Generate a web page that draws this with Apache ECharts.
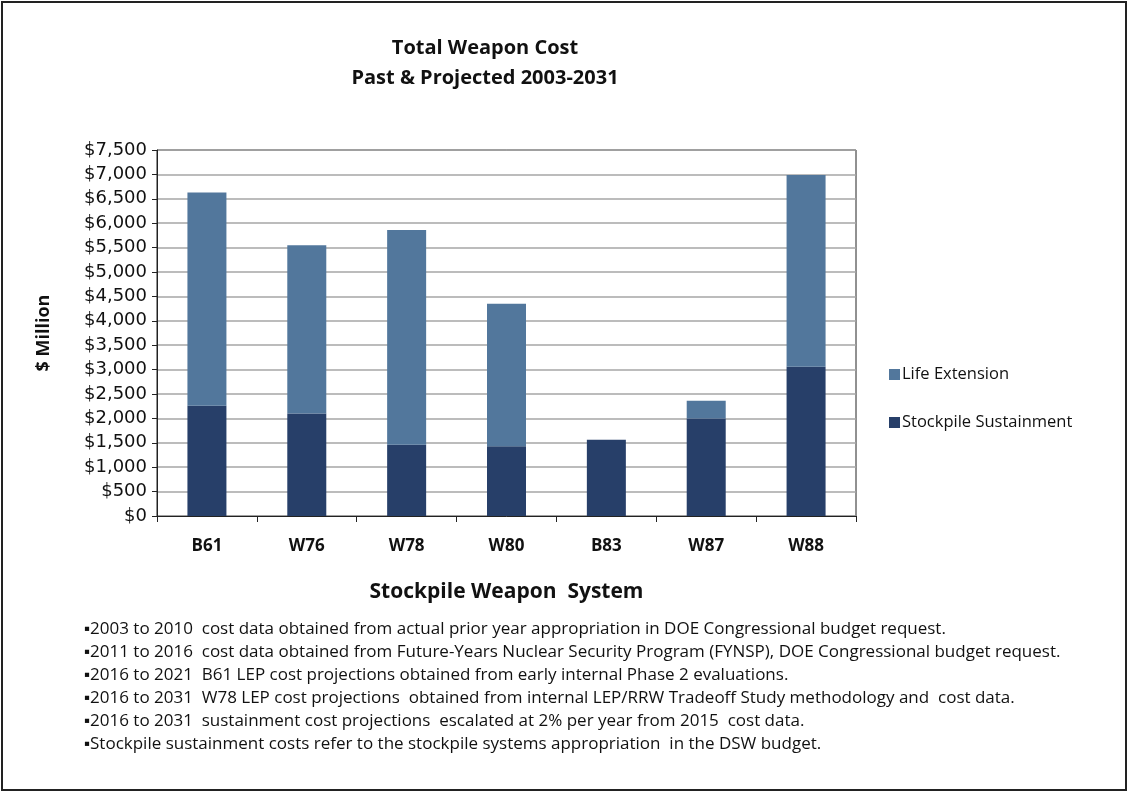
<!DOCTYPE html>
<html><head><meta charset="utf-8">
<script src="https://cdn.jsdelivr.net/npm/echarts@6/dist/echarts.min.js"></script>
<style>html,body{margin:0;padding:0;background:#fff}
#frame{position:absolute;left:1px;top:1px;width:1122px;height:786px;border:2px solid #222;}
#c{position:absolute;left:0;top:0;width:1128px;height:792px;}</style>
</head><body><div id="frame"></div><div id="c"></div>
<script>
const categories = ['B61','W76','W78','W80','B83','W87','W88'];
const sustainment = [2260, 2100, 1460, 1430, 1560, 2000, 3060];
const lifeExtension = [4370, 3450, 4400, 2920, 0, 360, 3930];
const titleLines = ['Total Weapon Cost', 'Past & Projected 2003-2031'];
const notes = [
 '\u25AA2003 to 2010  cost data obtained from actual prior year appropriation in DOE Congressional budget request.',
 '\u25AA2011 to 2016  cost data obtained from Future-Years Nuclear Security Program (FYNSP), DOE Congressional budget request.',
 '\u25AA2016 to 2021  B61 LEP cost projections obtained from early internal Phase 2 evaluations.',
 '\u25AA2016 to 2031  W78 LEP cost projections  obtained from internal LEP/RRW Tradeoff Study methodology and  cost data.',
 '\u25AA2016 to 2031  sustainment cost projections  escalated at 2% per year from 2015  cost data.',
 '\u25AAStockpile sustainment costs refer to the stockpile systems appropriation  in the DSW budget.'
];
const font = '"Open Sans", sans-serif';
const chart = echarts.init(document.getElementById('c'));
const noteY = [632, 655, 678, 701, 724, 747];
chart.setOption({
  animation:false,
  title:{text:titleLines.join('\n'), left:480, top:28, textAlign:'center',
    textStyle:{fontFamily:font, fontSize:20, fontWeight:'bold', color:'#111', lineHeight:30}},
  legend:{orient:'vertical', left:884, top:361, itemGap:31, itemWidth:11, itemHeight:11,
    icon:'rect', data:['Life Extension','Stockpile Sustainment'],
    textStyle:{fontFamily:font, fontSize:16.5, color:'#111', padding:[0,0,0,-3]}},
  grid:{left:157, right:272, top:150, bottom:276, show:true, borderColor:'#222', borderWidth:1},
  xAxis:{type:'category', data:categories, name:'Stockpile Weapon  System', nameLocation:'middle', nameGap:66,
    nameTextStyle:{fontFamily:font, fontSize:21, fontWeight:'bold', color:'#111'},
    axisLine:{lineStyle:{color:'#222', width:1}}, axisTick:{show:true, length:6, lineStyle:{color:'#222'}},
    axisLabel:{fontFamily:font, fontSize:17, fontWeight:'bold', color:'#111', margin:22}},
  yAxis:{type:'value', min:0, max:7500, interval:500, name:'$ Million', nameLocation:'middle', nameGap:104,
    nameTextStyle:{fontFamily:font, fontSize:18, fontWeight:'bold', color:'#111'},
    axisLine:{show:true, lineStyle:{color:'#222'}}, axisTick:{show:true, length:5, lineStyle:{color:'#222'}},
    splitLine:{lineStyle:{color:'#a6a6a6', width:1.5}},
    axisLabel:{fontFamily:'"DejaVu Sans", sans-serif', fontSize:18, color:'#111', margin:10,
      formatter:v=>'$'+v.toLocaleString('en-US')}},
  series:[
    {name:'Stockpile Sustainment', type:'bar', stack:'t', data:sustainment, barWidth:39, itemStyle:{color:'#273F69'}},
    {name:'Life Extension', type:'bar', stack:'t', data:lifeExtension, barWidth:39, itemStyle:{color:'#52779C'}}
  ],
  graphic: notes.map((t,i)=>({type:'text', left:84, top:noteY[i]-11,
    style:{text:t, fontFamily:font, fontSize:17, fill:'#111'}}))
});
</script></body></html>
